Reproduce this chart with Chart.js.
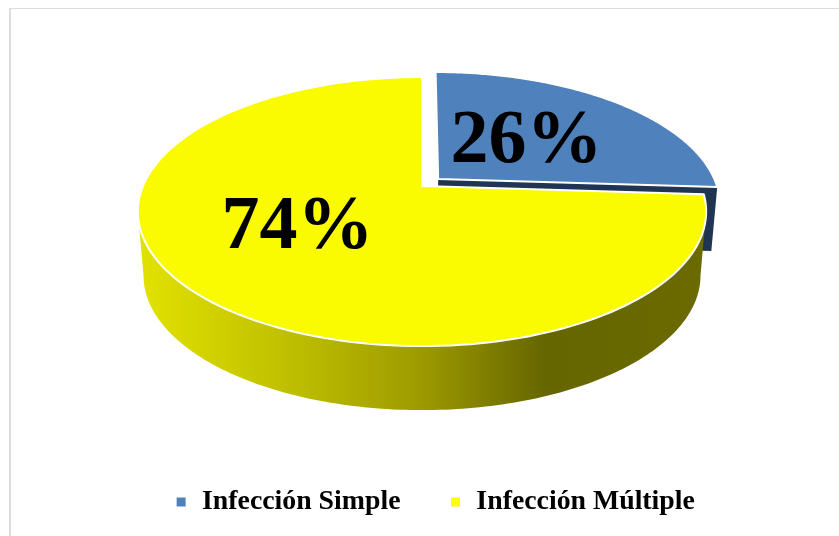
<!DOCTYPE html>
<html>
<head>
<meta charset="utf-8">
<title>Infección</title>
<script src="https://cdn.jsdelivr.net/npm/chart.js@4"></script>
<style>
  html, body { margin: 0; padding: 0; background: #fff; overflow: hidden; }
  #wrap { position: relative; width: 839px; height: 536px; }
  #frame { position: absolute; left: 9px; top: 8px; right: 0; bottom: 0; border-left: 2px solid #dcdcdc; border-top: 1px solid #dcdcdc; }
  canvas { position: absolute; left: 0; top: 0; }
</style>
</head>
<body>
<div id="wrap">
  <div id="frame"></div>
  <canvas id="PieChart" width="839" height="536"></canvas>
</div>
<script>
var categories = ['Infección Simple', 'Infección Múltiple'];
var percents = [26, 74];
var topColors = ['#4f81bd', '#fbfb00'];
var legendColors = ['#4f81bd', '#ffff00'];
var cutFaceColor = '#1f3552';

// tilted disc: apex position, radii and perspective strength
var disc = { x: 422, y: 186, rx: 279, ry: 129.7, k: 0.19, depth: 64, shrink: 0.98 };
var labelSpots = [[526.5, 162], [297.5, 248]];

// unit disc point -> screen
function project(u, v, bottom) {
    var w = 1 - disc.k * v;
    var sx = disc.rx * u / w;
    var sy = disc.ry * v / w;
    if (bottom) {
        return [disc.x + sx * disc.shrink, disc.y + sy + disc.depth];
    }
    return [disc.x + sx, disc.y + sy];
}

function arcOffset(arc) {
    var mid = (arc.startAngle + arc.endAngle) / 2;
    var d = (arc.options.offset || 0) / arc.outerRadius;
    return [Math.cos(mid) * d, Math.sin(mid) * d];
}

function rimPoints(arc, from, to, bottom) {
    var off = arcOffset(arc);
    var pts = [];
    var steps = 160;
    for (var i = 0; i <= steps; i++) {
        var a = from + (to - from) * i / steps;
        pts.push(project(Math.cos(a) + off[0], Math.sin(a) + off[1], bottom));
    }
    return pts;
}

function trace(ctx, pts) {
    pts.forEach(function (p, i) {
        if (i === 0) ctx.moveTo(p[0], p[1]);
        else ctx.lineTo(p[0], p[1]);
    });
}

function drawTop(ctx, arc, color) {
    var off = arcOffset(arc);
    var apex = project(off[0], off[1], false);
    ctx.beginPath();
    trace(ctx, [apex].concat(rimPoints(arc, arc.startAngle, arc.endAngle, false)));
    ctx.closePath();
    ctx.fillStyle = color;
    ctx.fill();
    ctx.lineWidth = 2;
    ctx.strokeStyle = '#ffffff';
    ctx.lineJoin = 'round';
    ctx.stroke();
}

// flat face left by the pulled out slice, only its lower radial edge shows
function drawCutFace(ctx, arc) {
    var off = arcOffset(arc);
    var a = arc.endAngle;
    var p1 = project(off[0], off[1], false);
    var p2 = project(Math.cos(a) + off[0], Math.sin(a) + off[1], false);
    var p3 = project(Math.cos(a) + off[0], Math.sin(a) + off[1], true);
    var p4 = project(off[0], off[1], true);
    ctx.beginPath();
    trace(ctx, [p1, p2, p3, p4]);
    ctx.closePath();
    ctx.fillStyle = cutFaceColor;
    ctx.fill();
}

// outer wall of the big slice, between the two widest points of the rim
function drawWall(ctx, arc) {
    var from = Math.asin(disc.k);
    var to = Math.PI - from;
    var upper = rimPoints(arc, from, to, false);
    var lower = rimPoints(arc, from, to, true).reverse();
    var grad = ctx.createLinearGradient(140, 0, 702, 0);
    grad.addColorStop(0, '#e2e200');
    grad.addColorStop(0.285, '#bcbc00');
    grad.addColorStop(0.5, '#9d9a00');
    grad.addColorStop(0.72, '#666600');
    grad.addColorStop(1, '#6a6a00');
    ctx.beginPath();
    trace(ctx, upper.concat(lower));
    ctx.closePath();
    ctx.fillStyle = grad;
    ctx.fill();
}

var pie3d = {
    id: 'pie3d',
    beforeDatasetDraw: function (chart, args) {
        var ctx = chart.ctx;
        var arcs = args.meta.data;
        ctx.save();
        drawCutFace(ctx, arcs[0]);
        drawTop(ctx, arcs[0], topColors[0]);
        drawWall(ctx, arcs[1]);
        drawTop(ctx, arcs[1], topColors[1]);
        ctx.font = 'bold 76px "Liberation Serif"';
        ctx.textAlign = 'center';
        ctx.textBaseline = 'alphabetic';
        ctx.fillStyle = '#000000';
        percents.forEach(function (p, i) {
            ctx.fillText(p + '%', labelSpots[i][0], labelSpots[i][1]);
        });
        ctx.restore();
        return false;
    }
};

var ctx = document.getElementById('PieChart').getContext('2d');
var myChart = new Chart(ctx, {
    type: 'pie',
    data: {
        labels: categories,
        datasets: [{
            data: percents,
            backgroundColor: legendColors,
            borderWidth: 0,
            offset: [17, 0]
        }]
    },
    options: {
        responsive: false,
        animation: false,
        layout: { padding: { left: 30, bottom: 10 } },
        plugins: {
            tooltip: { enabled: false },
            legend: {
                position: 'bottom',
                labels: {
                    color: '#000000',
                    font: { family: '"Liberation Serif"', size: 27.8, weight: 'bold' },
                    usePointStyle: true,
                    pointStyle: 'rect',
                    boxWidth: 14,
                    boxHeight: 9,
                    padding: 48
                }
            }
        }
    },
    plugins: [pie3d]
});
</script>
</body>
</html>
